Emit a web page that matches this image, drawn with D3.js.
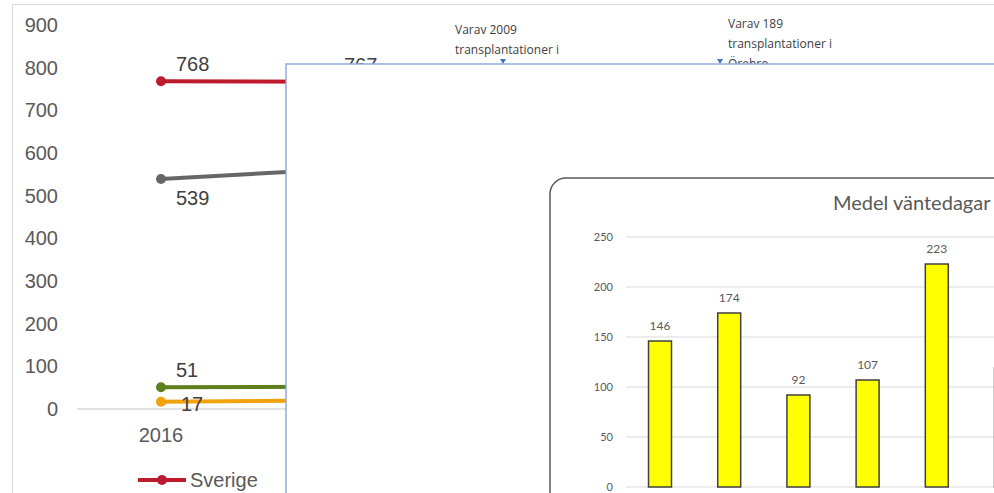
<!DOCTYPE html>
<html>
  <head>
    <meta charset="utf-8">
    <title>Transplantationer</title>
    <style media="screen">
    body{margin:0;background:#fff}
    svg{display:block}
    </style>
  </head>
  <body>
    <svg width="994" height="493"></svg>
    <script src="https://d3js.org/d3.v7.min.js"></script>
    <script>

    // background line chart
    var years = ["2016", "2017"];
    var seriesNames = ["Sverige", "Serie 2", "Serie 3", "Serie 4"];
    var sverige = [768, 767];
    var serie2 = [539, 561];
    var serie3 = [51, 52];
    var serie4 = [17, 20];
    var lineTicks = [0, 100, 200, 300, 400, 500, 600, 700, 800, 900];

    // notes above the chart
    var note1 = ["Varav 2009", "transplantationer i", "Göteborg"];
    var note2 = ["Varav 189", "transplantationer i", "Örebro"];

    // inset bar chart
    var barTitle = "Medel väntedagar";
    var barCats = ["1", "2", "3", "4", "5", "6"];
    var medelDagar = [146, 174, 92, 107, 223, 119];
    var barTicks = [0, 50, 100, 150, 200, 250];

    var svg = d3.select("svg");

    // frame of the line chart
    svg.append("rect").attr("x", 12.5).attr("y", 4.5).attr("width", 1000).attr("height", 600)
      .attr("fill", "#fff").attr("stroke", "#d9d9d9");

    var x = d3.scalePoint().domain(years).range([77, 77 + 168 * years.length]).padding(0.5);
    var y = d3.scaleLinear().domain([0, 900]).range([409, 25]);

    var g = svg.append("g").attr("font-family", "'Liberation Sans', Arial, sans-serif");

    // y axis labels
    g.selectAll(".yt").data(lineTicks).enter().append("text")
      .attr("x", 58).attr("y", function(d) { return y(d); }).attr("dy", "0.35em")
      .attr("text-anchor", "end").attr("font-size", 20).attr("fill", "#595959")
      .text(function(d) { return d; });

    g.append("line").attr("x1", 77).attr("x2", 994).attr("y1", y(0)).attr("y2", y(0))
      .attr("stroke", "#d9d9d9").attr("stroke-width", 1.5);

    g.selectAll(".xt").data(years).enter().append("text")
      .attr("x", function(d) { return x(d); }).attr("y", 442)
      .attr("text-anchor", "middle").attr("font-size", 20).attr("fill", "#595959")
      .text(function(d) { return d; });

    var series = [
      {name: seriesNames[0], values: sverige, color: "#be1a2e", pos: "above"},
      {name: seriesNames[1], values: serie2, color: "#666666", pos: "below"},
      {name: seriesNames[2], values: serie3, color: "#5e7f1c", pos: "above"},
      {name: seriesNames[3], values: serie4, color: "#f2a20c", pos: "right"}
    ];

    var line = d3.line()
      .x(function(d, i) { return x(years[i]); })
      .y(function(d) { return y(d); });

    series.forEach(function(s) {
      g.append("path").datum(s.values).attr("d", line)
        .attr("fill", "none").attr("stroke", s.color).attr("stroke-width", 4);
      g.selectAll(null).data(s.values).enter().append("circle")
        .attr("cx", function(d, i) { return x(years[i]); })
        .attr("cy", function(d) { return y(d); })
        .attr("r", 5).attr("fill", s.color);
      g.selectAll(null).data(s.values).enter().append("text")
        .attr("x", function(d, i) { return x(years[i]) + (s.pos == "right" ? 20 : 15); })
        .attr("y", function(d) { return y(d) + (s.pos == "above" ? -10 : s.pos == "below" ? 26 : 9); })
        .attr("font-size", 20).attr("fill", "#404040")
        .text(function(d) { return d; });
    });

    // legend
    var leg = g.selectAll(".leg").data(series).enter().append("g")
      .attr("transform", function(d, i) { return "translate(" + (138 + i * 170) + ",480)"; });
    leg.append("line").attr("x1", 0).attr("x2", 48)
      .attr("stroke", function(d) { return d.color; }).attr("stroke-width", 4);
    leg.append("circle").attr("cx", 24).attr("r", 5).attr("fill", function(d) { return d.color; });
    leg.append("text").attr("x", 52).attr("y", 7).attr("font-size", 20).attr("fill", "#595959")
      .text(function(d) { return d.name; });

    // notes
    var notes = svg.append("g").attr("font-family", "'Open Sans', sans-serif")
      .attr("font-size", 12).attr("fill", "#404040");
    [[note1, 455, 34, 503], [note2, 728, 28, 720]].forEach(function(n) {
      notes.selectAll(null).data(n[0]).enter().append("text")
        .attr("x", n[1]).attr("y", function(d, i) { return n[2] + i * 20; })
        .text(function(d) { return d; });
      notes.append("path")
        .attr("d", "M" + (n[3] - 3) + "," + 59 + "L" + (n[3] + 3) + "," + 59 + "L" + n[3] + "," + 64 + "Z")
        .attr("fill", "#4472c4");
    });

    // overlay picture
    svg.append("rect").attr("x", 286).attr("y", 64).attr("width", 800).attr("height", 600)
      .attr("fill", "#fff").attr("stroke", "#8eaadb").attr("stroke-width", 1.5);

    // inset bar chart
    svg.append("rect").attr("x", 550).attr("y", 178).attr("width", 700).attr("height", 500)
      .attr("rx", 16).attr("fill", "#fff").attr("stroke", "#595959").attr("stroke-width", 1.5);

    var bx = d3.scaleBand().domain(barCats).range([625.4, 625.4 + 69.2 * barCats.length])
      .paddingInner(0.668).paddingOuter(0.334);
    var by = d3.scaleLinear().domain([0, 250]).range([487, 237]);

    var b = svg.append("g").attr("font-family", "Lato, 'Open Sans', sans-serif");

    b.append("text").attr("x", 833).attr("y", 210).attr("font-size", 20).attr("fill", "#595959")
      .text(barTitle);

    b.selectAll(".grid").data(barTicks).enter().append("line")
      .attr("x1", 626).attr("x2", 994)
      .attr("y1", function(d) { return by(d); }).attr("y2", function(d) { return by(d); })
      .attr("stroke", "#d9d9d9").attr("stroke-width", 1);

    b.selectAll(".byt").data(barTicks).enter().append("text")
      .attr("x", 613).attr("y", function(d) { return by(d); }).attr("dy", "0.35em")
      .attr("text-anchor", "end").attr("font-size", 11).attr("fill", "#595959")
      .text(function(d) { return d; });

    b.selectAll(".bar").data(medelDagar).enter().append("rect")
      .attr("x", function(d, i) { return bx(barCats[i]); })
      .attr("y", function(d) { return by(d); })
      .attr("width", bx.bandwidth())
      .attr("height", function(d) { return by(0) - by(d); })
      .attr("fill", "#ffff00").attr("stroke", "#404040").attr("stroke-width", 1.5);

    b.selectAll(".bv").data(medelDagar).enter().append("text")
      .attr("x", function(d, i) { return bx(barCats[i]) + bx.bandwidth() / 2; })
      .attr("y", function(d) { return by(d) - 11; })
      .attr("text-anchor", "middle").attr("font-size", 12).attr("fill", "#595959")
      .text(function(d) { return d; });

    </script>
  </body>
</html>
